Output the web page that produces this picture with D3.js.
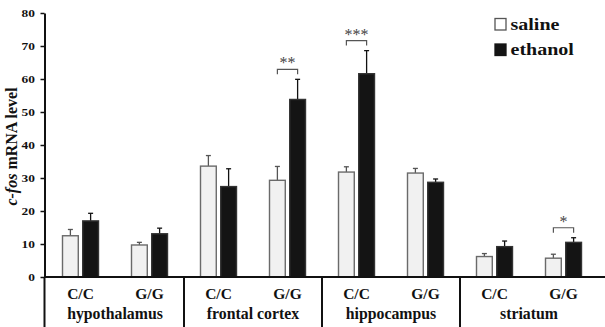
<!DOCTYPE html>
<html>
<head>
<meta charset="utf-8">
<script src="https://cdn.jsdelivr.net/npm/d3@7"></script>
<style>
  body { margin: 0; background: #fff; }
  svg text { font-family: "Liberation Serif", "DejaVu Serif", "Times New Roman", serif; font-weight: bold; }
</style>
</head>
<body>
<div id="chart"></div>
<script>
// data
const regions = ['hypothalamus', 'frontal cortex', 'hippocampus', 'striatum'];
const genotypes = ['C/C', 'G/G'];
const series = ['saline', 'ethanol'];
const salineMean = [12.5, 9.7, 33.6, 29.3, 31.8, 31.5, 6.2, 5.7];
const salineSem = [1.9, 0.8, 3.2, 4.2, 1.6, 1.4, 0.9, 1.2];
const ethanolMean = [17.0, 13.1, 27.4, 53.8, 61.6, 28.7, 9.2, 10.5];
const ethanolSem = [2.3, 1.7, 5.4, 6.1, 7.0, 1.0, 1.7, 1.4];
const significance = ['', '', '', '**', '***', '', '', '*'];
const yTicks = [0, 10, 20, 30, 40, 50, 60, 70, 80];

const width = 605, height = 327;
const margin = {left: 44.5, top: 13, base: 277};
const colors = {saline: '#f1f1f1', ethanol: '#141414'};
const strokes = {saline: '#6a6a6a', ethanol: '#333'};

let svg = d3.select('#chart').append('svg')
    .attr('width', width)
    .attr('height', height);

// one slot per region/genotype pair
let pairs = [];
regions.forEach((r, i) => {
  genotypes.forEach((g, j) => {
    pairs.push({region: r, genotype: g, idx: i * genotypes.length + j});
  });
});

let xScale = d3.scaleBand()
    .domain(pairs.map(d => d.idx))
    .range([46, 598]);

let xSub = d3.scaleBand()
    .domain(series)
    .range([16.5, 52.5])
    .paddingInner(0.22);

let yScale = d3.scaleLinear()
    .domain([0, 80])
    .range([margin.base, margin.top]);

let bars = [];
pairs.forEach((p) => {
  bars.push({idx: p.idx, s: 'saline', v: salineMean[p.idx], e: salineSem[p.idx]});
  bars.push({idx: p.idx, s: 'ethanol', v: ethanolMean[p.idx], e: ethanolSem[p.idx]});
});

let barMid = d => xScale(d.idx) + xSub(d.s) + xSub.bandwidth() / 2;

// error bars (upper only)
let errs = svg.append('g').selectAll('g')
    .data(bars)
  .enter().append('g')
    .attr('stroke', d => d.s == 'saline' ? '#555' : '#111')
    .attr('stroke-width', 1.3);

errs.append('line')
    .attr('x1', barMid)
    .attr('x2', barMid)
    .attr('y1', d => yScale(d.v))
    .attr('y2', d => yScale(d.v + d.e));

errs.append('line')
    .attr('x1', d => barMid(d) - 2.5)
    .attr('x2', d => barMid(d) + 2.5)
    .attr('y1', d => yScale(d.v + d.e))
    .attr('y2', d => yScale(d.v + d.e));

// bars
svg.append('g').selectAll('rect')
    .data(bars)
  .enter().append('rect')
    .attr('x', d => xScale(d.idx) + xSub(d.s))
    .attr('y', d => yScale(d.v))
    .attr('width', xSub.bandwidth())
    .attr('height', d => yScale(0) - yScale(d.v))
    .attr('fill', d => colors[d.s])
    .attr('stroke', d => strokes[d.s])
    .attr('stroke-width', 1.4);

// significance brackets
let sig = pairs.filter(p => significance[p.idx]);
let sigG = svg.append('g').selectAll('g')
    .data(sig)
  .enter().append('g');

function bracketY(p) {
  return yScale(ethanolMean[p.idx] + ethanolSem[p.idx]) - 10;
}

sigG.append('path')
    .attr('fill', 'none')
    .attr('stroke', '#555')
    .attr('stroke-width', 1.2)
    .attr('d', (p) => {
      let x1 = barMid({idx: p.idx, s: 'saline'});
      let x2 = barMid({idx: p.idx, s: 'ethanol'});
      let y = bracketY(p);
      return 'M' + x1 + ',' + (y + 5) + 'V' + y + 'H' + x2 + 'V' + (y + 5);
    });

sigG.append('text')
    .attr('x', p => xScale(p.idx) + xScale.bandwidth() / 2)
    .attr('y', p => bracketY(p) - 1)
    .attr('text-anchor', 'middle')
    .attr('font-size', 16)
    .style('font-weight', 'normal')
    .attr('fill', '#444')
    .text(p => significance[p.idx]);

// y axis
let yAxis = svg.append('g')
    .attr('transform', 'translate(' + margin.left + ',0)')
    .call(d3.axisLeft(yScale).tickValues(yTicks).tickSize(4).tickSizeOuter(0));

yAxis.select('.domain').attr('stroke', '#111').attr('stroke-width', 2);
yAxis.selectAll('.tick line').attr('stroke', '#111').attr('stroke-width', 1.5);
yAxis.selectAll('.tick text')
    .attr('x', 0)
    .attr('font-size', 11)
    .attr('fill', '#111')
    .attr('transform', 'translate(-9.5,0) scale(1.22,1)');

// axis extension below zero
svg.append('line')
    .attr('x1', margin.left).attr('x2', margin.left)
    .attr('y1', yScale(0)).attr('y2', height)
    .attr('stroke', '#111').attr('stroke-width', 2);

// baseline
svg.append('line')
    .attr('x1', margin.left).attr('x2', width)
    .attr('y1', yScale(0)).attr('y2', yScale(0))
    .attr('stroke', '#111').attr('stroke-width', 2);

// region separators
svg.append('g').selectAll('line')
    .data(regions.slice(1))
  .enter().append('line')
    .attr('x1', (d, i) => xScale((i + 1) * genotypes.length))
    .attr('x2', (d, i) => xScale((i + 1) * genotypes.length))
    .attr('y1', yScale(0))
    .attr('y2', height)
    .attr('stroke', '#111')
    .attr('stroke-width', 2);

// genotype labels
svg.append('g').selectAll('text')
    .data(pairs)
  .enter().append('text')
    .attr('x', p => xScale(p.idx) + xScale.bandwidth() / 2)
    .attr('y', 298.5)
    .attr('text-anchor', 'middle')
    .attr('font-size', 15.5)
    .attr('fill', '#111')
    .text(p => p.genotype);

// region labels
svg.append('g').selectAll('text')
    .data(regions)
  .enter().append('text')
    .attr('x', (d, i) => xScale(i * genotypes.length) + xScale.bandwidth())
    .attr('y', 318.5)
    .attr('text-anchor', 'middle')
    .attr('font-size', 15.8)
    .attr('fill', '#111')
    .text(d => d);

// y title
let title = svg.append('text')
    .attr('transform', 'translate(17,146.5) rotate(-90)')
    .attr('text-anchor', 'middle')
    .attr('font-size', 16)
    .attr('fill', '#111');
title.append('tspan').style('font-style', 'italic').text('c-fos');
title.append('tspan').text(' mRNA level');

// legend
let legend = svg.append('g').selectAll('g')
    .data(series)
  .enter().append('g')
    .attr('transform', (d, i) => 'translate(495,' + (18.5 + i * 25.5) + ')');

legend.append('rect')
    .attr('width', 11)
    .attr('height', 11.5)
    .attr('fill', d => d == 'saline' ? '#fff' : colors[d])
    .attr('stroke', d => d == 'saline' ? '#555' : colors[d])
    .attr('stroke-width', 1.3);

legend.append('text')
    .attr('transform', 'translate(15.5,11) scale(1.25,1)')
    .attr('font-size', 16)
    .attr('fill', '#111')
    .text(d => d);
</script>
</body>
</html>
